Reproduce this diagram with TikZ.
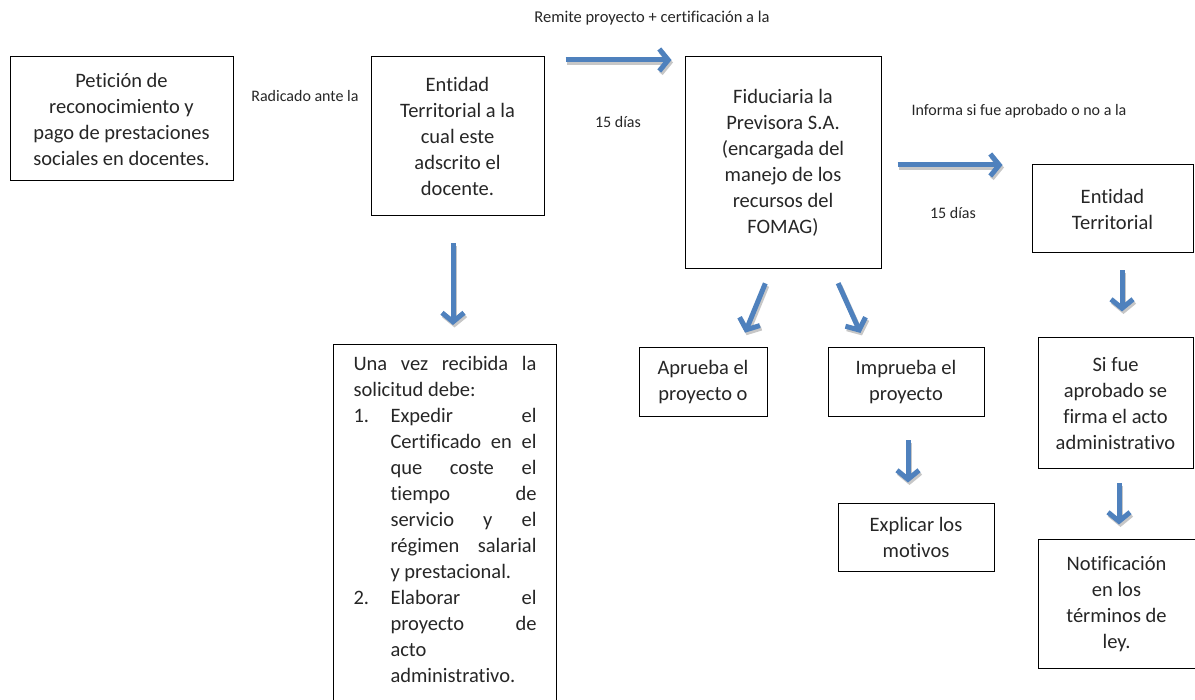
\documentclass[tikz,border=0pt]{standalone}
\usepackage{fontspec}
\setmainfont{Carlito}[Ligatures=NoCommon]
\usetikzlibrary{arrows.meta}
\definecolor{azul}{RGB}{79,129,189}
\tolerance=10000
\hbadness=10000
\hfuzz=5pt
\newcommand\numlabel[1]{#1\hfil}
% flecha azul con sombra gris
\newcommand\flechasombra[3]{%
  \draw [flecha, draw=black!22, transform canvas={xshift=1.5pt,yshift=-2.5pt}, #1] #2 -- #3;
  \draw [flecha, #1] #2 -- #3;}
\begin{document}
\begin{tikzpicture}[x=1pt,y=-1pt]
  \tikzstyle{caja} = [rectangle, draw=black, line width=1pt, align=center, inner sep=0pt, text=black!85, font=\fontsize{20.5}{26}\selectfont]
  \tikzstyle{flecha} = [draw=azul, line width=5pt, -{Straight Barb[length=9pt,width=22pt]}]
  \tikzstyle{etiqueta} = [text=black!85, font=\fontsize{16}{18}\selectfont]
  \useasboundingbox (0,0) rectangle (1195,700);
  % cajas
  \node (peticion) [caja, minimum width=223pt, minimum height=124pt] at (121.5,119) {Petición de\\ reconocimiento y\\ pago de prestaciones\\ sociales en docentes.};
  \node (entidad) [caja, minimum width=173pt, minimum height=159pt] at (457.5,136.5) {Entidad\\ Territorial a la\\ cual este\\ adscrito el\\ docente.};
  \node (fiduciaria) [caja, minimum width=196pt, minimum height=212pt] at (783,163) {Fiduciaria la\\ Previsora S.A.\\ (encargada del\\ manejo de los\\ recursos del\\ FOMAG)};
  \node (territorial) [caja, minimum width=161pt, minimum height=88pt] at (1112.5,209) {Entidad\\ Territorial};
  \node (pasos) [caja, anchor=north west, text width=183pt, inner xsep=20pt, inner ysep=12pt, align=justify] at (333,344) {Una vez recibida la\linebreak solicitud debe:
    \begin{list}{}{\leftmargin=37pt \labelwidth=37pt \labelsep=0pt \itemsep=0pt \topsep=0pt \parsep=0pt \partopsep=0pt \let\makelabel\numlabel}
      \item[1.] Expedir el\linebreak Certificado en el\linebreak que coste el\linebreak tiempo de\linebreak servicio y el\linebreak régimen salarial\linebreak y prestacional.
      \item[2.] Elaborar el\linebreak proyecto de\linebreak acto\linebreak administrativo.
    \end{list}
    \vspace{20pt}};
  \node (aprueba) [caja, minimum width=128pt, minimum height=69pt] at (703,382.5) {Aprueba el\\ proyecto o};
  \node (imprueba) [caja, minimum width=156pt, minimum height=69pt] at (906,382.5) {Imprueba el\\ proyecto};
  \node (motivos) [caja, minimum width=156pt, minimum height=67pt] at (916,537.5) {Explicar los\\ motivos};
  \node (firma) [caja, minimum width=155pt, minimum height=131pt] at (1115.5,403.5) {Si fue\\ aprobado se\\ firma el acto\\ administrativo};
  \node (notificacion) [caja, minimum width=157pt, minimum height=128pt] at (1116.5,604) {Notificación\\ en los\\ términos de\\ ley.};
  % etiquetas
  \node (radicado) [etiqueta] at (305,96) {Radicado ante la};
  \node (remite) [etiqueta, font=\fontsize{16.5}{18}\selectfont] at (652,18) {Remite proyecto + certificación a la};
  \node (dias1) [etiqueta] at (618,122) {15 días};
  \node (informa) [etiqueta] at (1019,111) {Informa si fue aprobado o no a la};
  \node (dias2) [etiqueta] at (953,213) {15 días};
  % flechas
  \flechasombra{shorten <=21pt, shorten >=13pt}{(entidad.east |- 0,60)}{(fiduciaria.west |- 0,60)}
  \flechasombra{shorten <=16pt, shorten >=29pt}{(fiduciaria.east |- 0,165)}{(territorial.west |- 0,165)}
  \flechasombra{shorten <=27pt, shorten >=19pt}{(entidad.south -| 453,0)}{(pasos.north -| 453,0)}
  \flechasombra{shorten <=15pt, shorten >=16pt}{(fiduciaria.south -| 771,0)}{(aprueba.north -| 739,0)}
  \flechasombra{shorten <=15pt, shorten >=16pt}{(fiduciaria.south -| 832,0)}{(imprueba.north -| 867,0)}
  \flechasombra{shorten <=23pt, shorten >=21pt}{(imprueba.south -| 908,0)}{(motivos.north -| 908,0)}
  \flechasombra{shorten <=17pt, shorten >=26pt}{(territorial.south -| 1122,0)}{(firma.north -| 1122,0)}
  \flechasombra{shorten <=14pt, shorten >=15pt}{(firma.south -| 1119,0)}{(notificacion.north -| 1119,0)}
\end{tikzpicture}
\end{document}
